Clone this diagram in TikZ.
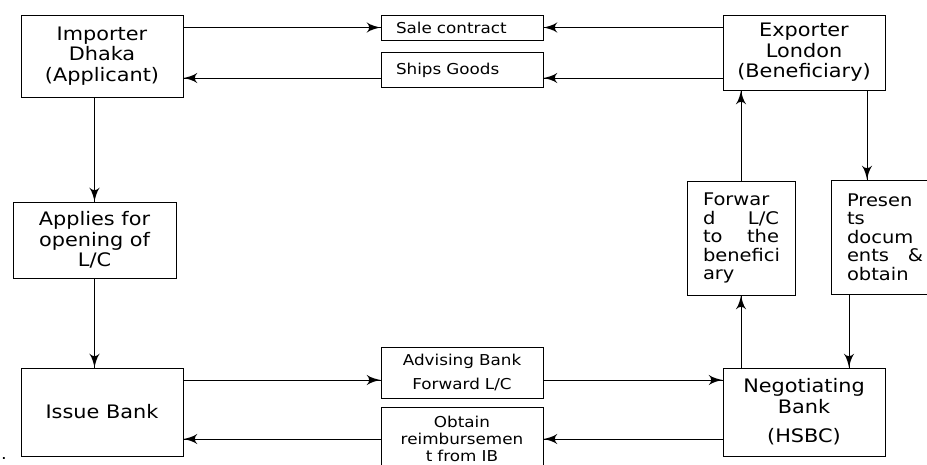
\documentclass[tikz,border=0pt]{standalone}
\usepackage{fontspec}
\setmainfont{DejaVu Sans}[FakeStretch=1.12]
\usetikzlibrary{arrows}
\usetikzlibrary{decorations.markings}
\tikzset{arr/.style = {decoration={markings,
                                   mark=at position 1 with {\arrow[scale=2.4]{latex'}}},
                       postaction={decorate}}}
\tikzset{box/.style = {draw, inner sep=0pt, align=center, font=\fontsize{18.6}{20.5}\selectfont}}
\tikzset{tag/.style = {draw, inner ysep=0pt, inner xsep=15pt, text width=132pt, align=left,
                       font=\fontsize{15}{17.5}\selectfont}}
\tikzset{col/.style = {draw, inner ysep=0pt, inner xsep=16pt, text width=76pt, align=left,
                       minimum height=114pt, font=\fontsize{17.4}{18.5}\selectfont}}
\begin{document}
\begin{tikzpicture}[x=1pt, y=-1pt, line width=1pt]
    \useasboundingbox (0,0) rectangle (927,464);
    % parties and banks
    \node [box, minimum width=162pt, minimum height=82pt] (imp) at (102,56) {Importer\\Dhaka\\(Applicant)};
    \node [box, minimum width=162pt, minimum height=75pt] (exp) at (804,52.5) {Exporter\\London\\(Beneficiary)};
    \node [box, minimum width=163pt, minimum height=76pt] (appl) at (94.5,240) {Applies for\\opening of\\L/C};
    \node [box, minimum width=162pt, minimum height=88pt] (issue) at (102,412) {Issue Bank};
    \node [box, minimum width=162pt, minimum height=88pt] (neg) at (804,412) {Negotiating\\Bank\\[9pt](HSBC)};
    % small labels
    \node [tag, minimum height=25pt] (sale) at (462,27.5) {Sale contract};
    \node [tag, minimum height=35pt] (ships) at (462,70) {Ships Goods};
    \node [tag, align=center, minimum height=51pt] (adv) at (462,372.5) {Advising Bank\\[7pt]Forward L/C};
    \node [tag, align=center, minimum height=63pt, font=\fontsize{15}{17}\selectfont] (obt) at (462,439) {Obtain\\reimbursemen\\t from IB};
    % narrow columns
    \node [col] (fwd) at (741,238) {Forwar\\d\hfill L/C\\to\hfill the\\benefici\\ary};
    \node [col] (pres) at (885,237) {Presen\\ts\\docum\\ents\hfill \&\\obtain};
    \node [inner sep=0pt, font=\fontsize{16}{16}\selectfont] (stray) at (4,459) {.};
    % connectors
    \coordinate (gy) at (0,78);
    \coordinate (ay) at (0,380);
    \coordinate (px) at (867,0);
    \coordinate (qx) at (849,0);
    \draw [arr] (imp.east |- sale.west) -- (sale.west);
    \draw [arr] (exp.west |- sale.east) -- (sale.east);
    \draw [arr] (exp.west |- gy) -- (ships.east |- gy);
    \draw [arr] (ships.west |- gy) -- (imp.east |- gy);
    \draw [arr] (appl.north |- imp.south) -- (appl.north);
    \draw [arr] (appl.south) -- (appl.south |- issue.north);
    \draw [arr] (issue.east |- ay) -- (adv.west |- ay);
    \draw [arr] (adv.east |- ay) -- (neg.west |- ay);
    \draw [arr] (neg.west |- obt.east) -- (obt.east);
    \draw [arr] (obt.west) -- (issue.east |- obt.west);
    \draw [arr] (fwd.south |- neg.north) -- (fwd.south);
    \draw [arr] (fwd.north) -- (fwd.north |- exp.south);
    \draw [arr] (exp.south -| px) -- (pres.north -| px);
    \draw [arr] (pres.south -| qx) -- (neg.north -| qx);
\end{tikzpicture}
\end{document}
